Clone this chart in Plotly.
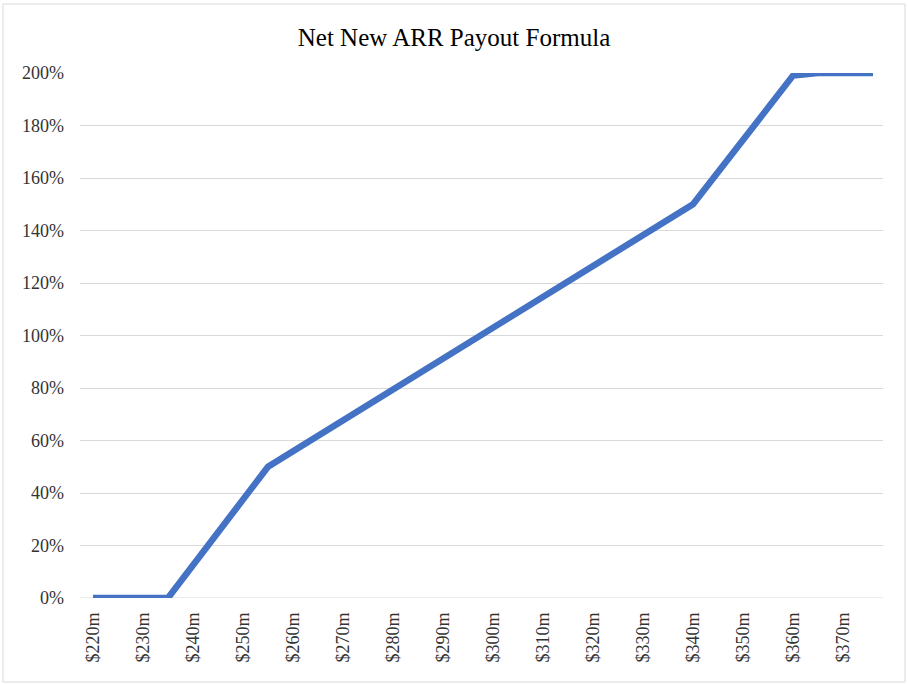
import plotly.graph_objects as go

# Data (ARR in $m, payout as fraction)
arr_m = [220, 235, 255, 340, 360, 365, 376]
payout = [0.0, 0.0, 0.50, 1.50, 1.99, 2.00, 2.00]
tick_vals = list(range(220, 371, 10))
tick_text = [f"${v}m" for v in tick_vals]

FONT = "Liberation Serif, Times New Roman, serif"

fig = go.Figure()
fig.add_trace(go.Scatter(
    x=arr_m, y=payout, mode="lines",
    line=dict(color="#4472C4", width=6.5),
    hoverinfo="skip", showlegend=False,
))

L, R, T, B = 80, 25, 73, 86
W, H = 908, 684
pw, ph = W - L - R, H - T - B

fig.update_layout(
    width=W, height=H,
    margin=dict(l=L, r=R, t=T, b=B),
    paper_bgcolor="white", plot_bgcolor="white",
    title=dict(text="Net New ARR Payout Formula", x=0.5, xanchor="center",
               y=1 - 37 / H, yanchor="middle",
               font=dict(family=FONT, size=25, color="#000000")),
    font=dict(family=FONT, size=18, color="#000000"),
    xaxis=dict(range=[217.4, 378], tickvals=tick_vals, ticktext=tick_text,
               tickangle=-90, showgrid=False, zeroline=False, showline=False,
               tickfont=dict(family=FONT, size=18, color="#333333"),
               ticklabelstandoff=10),
    yaxis=dict(range=[0, 2.0], dtick=0.2, tickformat=".0%",
               showgrid=True, gridcolor="#d9d9d9", gridwidth=1,
               zeroline=False, showline=False,
               tickfont=dict(family=FONT, size=18, color="#333333"),
               ticklabelstandoff=15),
    shapes=[
        dict(type="line", xref="paper", yref="y", x0=0, x1=1, y0=0, y1=0,
             line=dict(color="#d9d9d9", width=1), layer="below"),
        dict(type="rect", xref="paper", yref="paper",
             x0=(3 - L) / pw, x1=(905 - L) / pw,
             y0=(H - B - 682) / ph, y1=(H - B - 4) / ph,
             line=dict(color="#d9d9d9", width=1), layer="below"),
    ],
)

fig.write_html("out.html", config={"displayModeBar": False},
               post_script="document.body.style.margin='0';document.body.style.padding='0';")
